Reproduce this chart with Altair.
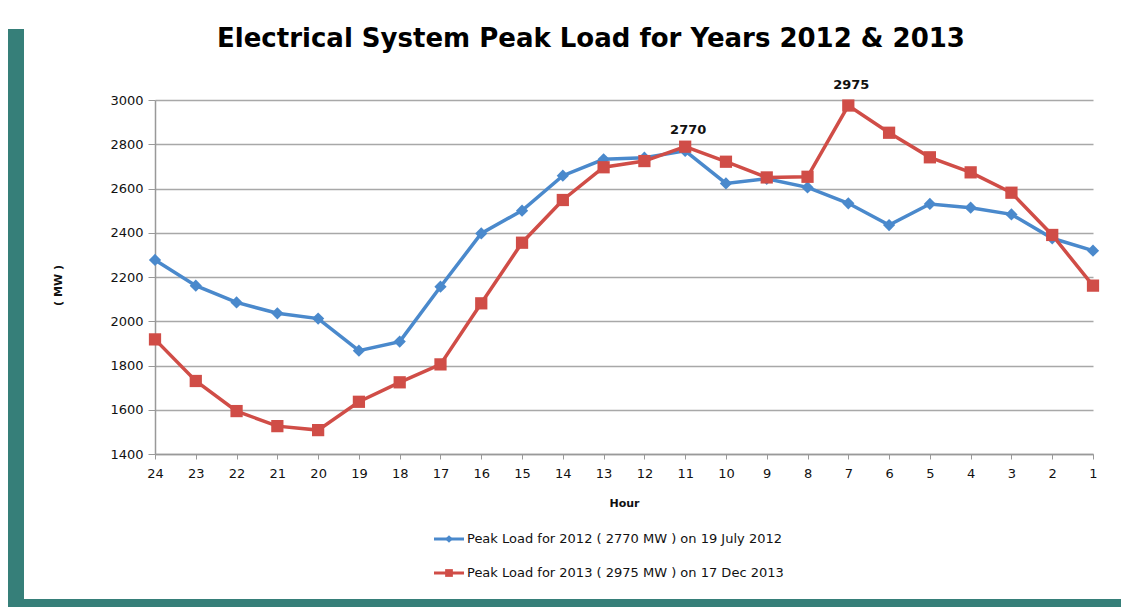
import altair as alt
import pandas as pd

hours = list(range(24, 0, -1))
load_2012 = [2277, 2161, 2085, 2036, 2012, 1867, 1908, 2156, 2397, 2500, 2658, 2732,
             2739, 2770, 2623, 2644, 2605, 2533, 2435, 2530, 2513, 2483, 2375, 2319]
load_2013 = [1918, 1730, 1594, 1526, 1508, 1636, 1724, 1805, 2081, 2355, 2548, 2696,
             2724, 2789, 2721, 2650, 2653, 2975, 2852, 2741, 2673, 2581, 2390, 2161]
series_names = ["Peak Load for 2012 ( 2770 MW ) on 19 July 2012",
                "Peak Load for 2013 ( 2975 MW ) on 17 Dec 2013"]
peak_hours = [11, 7]
peak_values = [2770, 2975]
y_ticks = list(range(1400, 3001, 200))

BLUE = "#4a89cc"
RED = "#d04d47"
TEAL = "#367f79"
FONT = "DejaVu Sans"

df = pd.DataFrame({
    "hour": hours * 2,
    "load": load_2012 + load_2013,
    "series": [series_names[0]] * 24 + [series_names[1]] * 24,
})
peaks = pd.DataFrame({"hour": peak_hours, "load": peak_values,
                      "label": [str(v) for v in peak_values]})
one = pd.DataFrame({"a": [0]})

W, H = 938, 354

x_enc = alt.X("hour:Q",
              scale=alt.Scale(domain=[24, 1], nice=False, zero=False),
              axis=alt.Axis(values=hours, title="Hour", format="d", labelFlush=False,
                            labelFont=FONT, labelFontSize=13, labelColor="#111",
                            labelPadding=8, tickSize=5, tickColor="#999",
                            domainColor="#999", domainWidth=1.5, grid=False,
                            titleFont=FONT, titleFontSize=11, titleFontWeight="bold",
                            titleColor="#111", titleY=49, titleBaseline="middle"))
y_enc = alt.Y("load:Q",
              scale=alt.Scale(domain=[1400, 3000], nice=False, zero=False),
              axis=alt.Axis(values=y_ticks, title="( MW )", format="d",
                            labelFont=FONT, labelFontSize=13, labelColor="#111",
                            labelPadding=5, tickSize=7, tickColor="#999",
                            domainColor="#999", domainWidth=1.5,
                            gridColor="#a8a8a8", gridWidth=1.5,
                            titleFont=FONT, titleFontSize=11, titleFontWeight="bold",
                            titleColor="#111", titleX=-92, titleY=185))
color_enc = alt.Color("series:N",
                      scale=alt.Scale(domain=series_names, range=[BLUE, RED]),
                      legend=None)

lines = alt.Chart(df).mark_line(strokeWidth=3.5).encode(
    x=x_enc, y=y_enc, color=color_enc, detail="series:N")
pts = alt.Chart(df).mark_point(filled=True, opacity=1, size=150).encode(
    x="hour:Q", y="load:Q", color=color_enc,
    shape=alt.Shape("series:N",
                    scale=alt.Scale(domain=series_names, range=["diamond", "square"]),
                    legend=None))
labels = alt.Chart(peaks).mark_text(font=FONT, fontSize=13, fontWeight="bold",
                                    color="#111", dy=-21, dx=3).encode(
    x="hour:Q", y="load:Q", text="label:N")

# frame decoration (teal strips)
teal_left = alt.Chart(one).mark_rect(color=TEAL).encode(
    x=alt.value(-151), x2=alt.value(-131), y=alt.value(-71), y2=alt.value(520))
teal_bottom = alt.Chart(one).mark_rect(color=TEAL).encode(
    x=alt.value(-151), x2=alt.value(980), y=alt.value(499), y2=alt.value(520))

title = alt.Chart(one).mark_text(
    text="Electrical System Peak Load for Years 2012 & 2013",
    font=FONT, fontSize=26, fontWeight="bold", color="#000",
    align="center", baseline="alphabetic").encode(
    x=alt.value(436), y=alt.value(-53))

# manual legend
legend_layers = []
for i, (name, col, shp) in enumerate(zip(series_names, [BLUE, RED], ["diamond", "square"])):
    yy = 439 + 34 * i
    legend_layers.append(alt.Chart(one).mark_rule(color=col, strokeWidth=3).encode(
        x=alt.value(279), x2=alt.value(309), y=alt.value(yy)))
    legend_layers.append(alt.Chart(one).mark_point(filled=True, opacity=1, color=col,
                                                   shape=shp, size=60).encode(
        x=alt.value(294), y=alt.value(yy)))
    legend_layers.append(alt.Chart(one).mark_text(text=name, font=FONT, fontSize=13,
                                                  color="#111", align="left",
                                                  baseline="middle").encode(
        x=alt.value(312), y=alt.value(yy)))

chart = alt.layer(teal_left, teal_bottom, lines, pts, labels, title, *legend_layers).properties(
    width=W, height=H,
    autosize=alt.AutoSizeParams(type="none"),
    padding={"left": 147, "top": 92, "right": 28, "bottom": 153},
    background="white",
).configure_view(stroke=None)

chart.save("out.html", embed_options={"renderer": "svg", "actions": False})
